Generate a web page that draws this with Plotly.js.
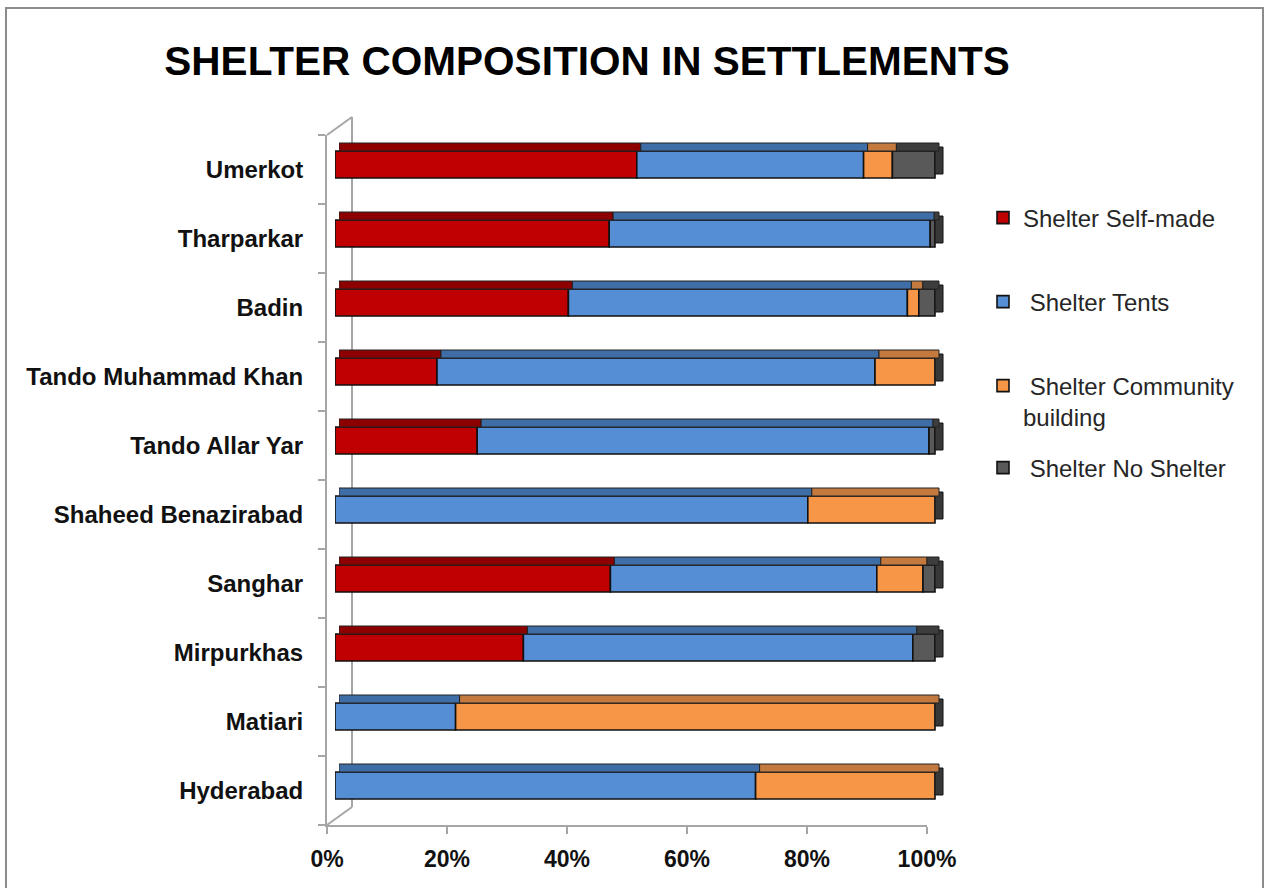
<!DOCTYPE html>
<html>
<head>
<meta charset="utf-8">
<script src="https://cdn.plot.ly/plotly-3.0.1.min.js"></script>
<style>html,body{margin:0;padding:0;background:#fff;}#chart{width:1271px;height:888px;}</style>
</head>
<body>
<div id="chart"></div>
<script>
// ---- data (top to bottom as displayed) ----
const districts = ["Umerkot","Tharparkar","Badin","Tando Muhammad Khan","Tando Allar Yar","Shaheed Benazirabad","Sanghar","Mirpurkhas","Matiari","Hyderabad"];
const selfMade  = [50.3, 45.7, 38.9, 17.0, 23.7, 0,    45.9, 31.4, 0,    0];
const tents     = [37.8, 53.5, 56.5, 73.0, 75.3, 78.8, 44.4, 64.9, 20.1, 70.1];
const community = [4.8,  0,    1.9,  10.0, 0,    21.2, 7.7,  0,    79.9, 29.9];
const noShelter = [7.1,  0.8,  2.7,  0,    1.0,  0,    2.0,  3.7,  0,    0];
const seriesNames = ["Shelter Self-made", "\u00a0Shelter Tents", "\u00a0Shelter Community<br>building", "\u00a0Shelter No Shelter"];
const xTickVals = [0, 20, 40, 60, 80, 100];
const xTickText = ["0%", "20%", "40%", "60%", "80%", "100%"];

// ---- styles ----
const W = 1271, H = 888;
const fx = p => p / W;
const fy = p => 1 - p / H;
const FAM = "'Liberation Sans', Arial, sans-serif";
const frontColors = ["#C00000", "#558ED5", "#F79646", "#595959"];
const topColors   = ["#8C0000", "#3F6EA6", "#C47A3E", "#3D3D3D"];
const sideColor = "#383838";
const edge = {color: "#111111", width: 1.6};
const series = [selfMade, tents, community, noShelter];

// cumulative bases
const bases = series.map((s, k) => districts.map((_, i) => {
  let b = 0; for (let j = 0; j < k; j++) b += series[j][i]; return b;
}));
const totals = districts.map((_, i) => series.reduce((a, s) => a + s[i], 0));
const nz = arr => arr.map(v => (v > 0 ? v : null));
const catOrder = districts.slice().reverse();

const traces = [];
// invisible helper so the labelled axes subplot is drawn
traces.push({
  type: "scatter", mode: "markers", x: [0], y: [0],
  marker: {opacity: 0}, showlegend: false, hoverinfo: "skip",
  xaxis: "x", yaxis: "y"
});
// front faces
series.forEach((s, k) => {
  traces.push({
    type: "bar", orientation: "h", name: seriesNames[k],
    y: districts, x: nz(s), base: bases[k],
    xaxis: "x2", yaxis: "y2",
    width: 0.391, offset: -0.123,
    marker: {color: frontColors[k], line: edge},
    legend: k === 0 ? "legend" : "legend" + (k + 1),
    hoverinfo: "skip"
  });
});
// top faces
series.forEach((s, k) => {
  traces.push({
    type: "bar", orientation: "h", showlegend: false,
    y: districts, x: nz(s), base: bases[k],
    xaxis: "x3", yaxis: "y3",
    width: 0.116, offset: 0.268,
    marker: {color: topColors[k], line: {color: "#222", width: 1}},
    hoverinfo: "skip"
  });
});
// right side faces
traces.push({
  type: "bar", orientation: "h", showlegend: false,
  y: districts, x: districts.map(() => 1.333), base: totals,
  xaxis: "x2", yaxis: "y2",
  width: 0.391, offset: -0.065,
  marker: {color: sideColor, line: {color: "#111", width: 1}},
  hoverinfo: "skip"
});

const gray = "#A6A6A6";
const tickFont = {family: FAM, size: 23, color: "#111", weight: 700};
const catFont = {family: FAM, size: 24, color: "#111", weight: 700};
const legFont = {family: FAM, size: 24, color: "#262626"};
const yDom = [fy(825), fy(135)];

function legendAt(ypx) {
  return {x: fx(983), xanchor: "left", y: fy(ypx), yanchor: "middle",
          bgcolor: "rgba(0,0,0,0)", font: legFont, valign: "top",
          itemclick: false, itemdoubleclick: false};
}

const layout = {
  width: W, height: H,
  margin: {l: 0, r: 0, t: 0, b: 0, pad: 0},
  paper_bgcolor: "#ffffff", plot_bgcolor: "rgba(0,0,0,0)",
  barmode: "overlay",
  title: {text: "SHELTER COMPOSITION IN SETTLEMENTS",
          font: {family: FAM, size: 40.5, color: "#000", weight: 700},
          x: fx(587), xanchor: "center", xref: "paper",
          y: fy(61), yanchor: "middle", yref: "paper"},
  xaxis: {domain: [fx(327), fx(927)], range: [0, 100], anchor: "y",
          tickmode: "array", tickvals: xTickVals, ticktext: xTickText,
          showline: true, linecolor: gray, linewidth: 2,
          ticks: "outside", ticklen: 7, tickwidth: 2, tickcolor: gray,
          showgrid: false, zeroline: false, tickfont: tickFont,
          ticklabelstandoff: 5, fixedrange: true},
  yaxis: {domain: yDom, range: [-0.5, 9.5], anchor: "x",
          tickmode: "array", tickvals: catOrder.map((_, i) => i), ticktext: catOrder,
          ticks: "", showline: true, linecolor: gray, linewidth: 2,
          minor: {tick0: -0.5, dtick: 1, ticks: "outside", ticklen: 7, tickwidth: 2, tickcolor: gray, showgrid: false},
          showgrid: false, zeroline: false, tickfont: catFont,
          ticklabelstandoff: 17, fixedrange: true},
  xaxis2: {domain: [fx(335), fx(945)], range: [0, 101.667], anchor: "y2", visible: false, fixedrange: true},
  yaxis2: {domain: yDom, type: "category", categoryorder: "array", categoryarray: catOrder,
           range: [-0.5, 9.5], anchor: "x2", visible: false, fixedrange: true},
  xaxis3: {domain: [fx(339), fx(949)], range: [0, 101.667], anchor: "y3", visible: false, fixedrange: true},
  yaxis3: {domain: yDom, type: "category", categoryorder: "array", categoryarray: catOrder,
           range: [-0.5, 9.5], anchor: "x3", visible: false, fixedrange: true},
  legend: legendAt(218),
  legend2: legendAt(302),
  legend3: legendAt(401.5),
  legend4: legendAt(468),
  shapes: [
    {type: "rect", xref: "paper", yref: "paper", x0: fx(6), x1: fx(1263), y0: fy(905), y1: fy(8),
     line: {color: "#8C8C8C", width: 2}, fillcolor: "rgba(0,0,0,0)", layer: "below"},
    {type: "line", xref: "paper", yref: "paper", x0: fx(352), x1: fx(352), y0: fy(807), y1: fy(117),
     line: {color: gray, width: 2}, layer: "below"},
    {type: "line", xref: "paper", yref: "paper", x0: fx(327), x1: fx(352), y0: fy(135), y1: fy(117),
     line: {color: gray, width: 2}, layer: "below"},
    {type: "line", xref: "paper", yref: "paper", x0: fx(327), x1: fx(352), y0: fy(825), y1: fy(807),
     line: {color: gray, width: 2}, layer: "below"}
  ]
};

Plotly.newPlot("chart", traces, layout, {displayModeBar: false, staticPlot: true});
</script>
</body>
</html>
